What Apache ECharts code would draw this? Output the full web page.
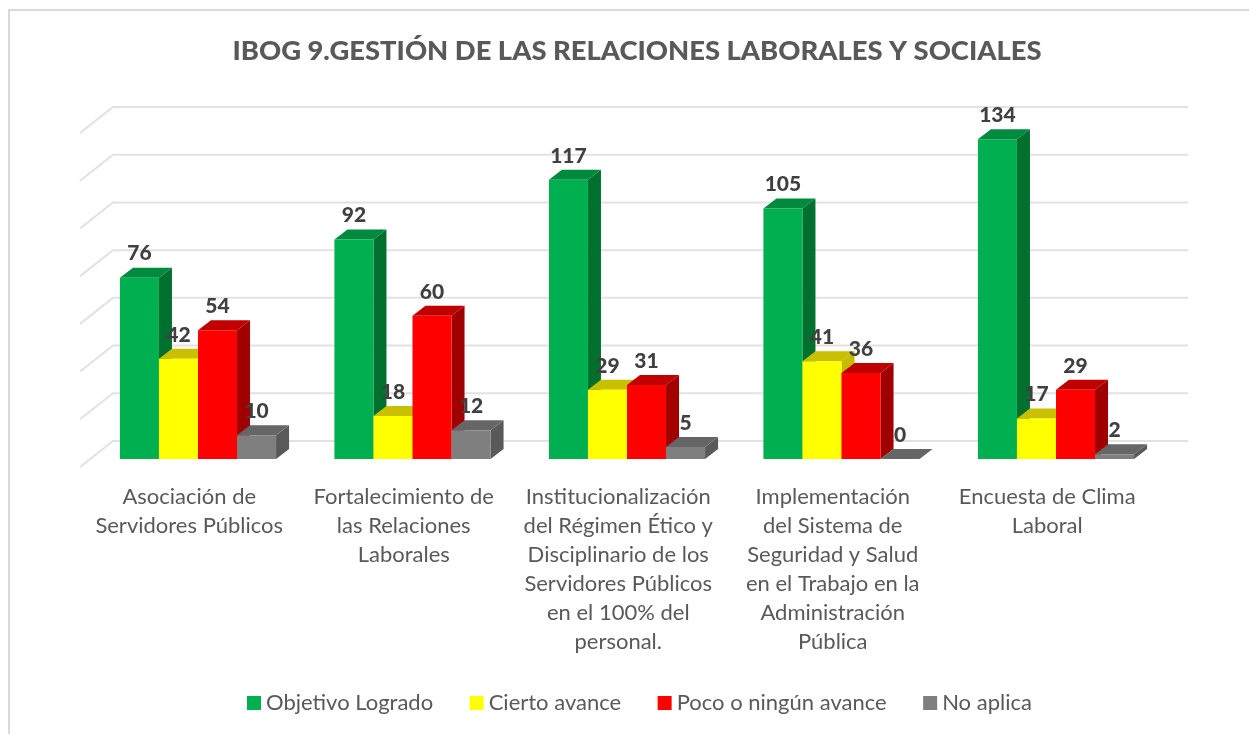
<!DOCTYPE html>
<html>
<head>
<meta charset="utf-8">
<title>IBOG 9</title>
<style>
html,body{margin:0;padding:0;background:#fff;}
#chart{width:1249px;height:734px;}
</style>
<script src="https://cdn.jsdelivr.net/npm/echarts@6/dist/echarts.min.js"></script>
</head>
<body>
<div id="chart"></div>
<script>
'use strict';
var titleText = 'IBOG 9.GESTIÓN DE LAS RELACIONES LABORALES Y SOCIALES';
var categories = [
    'Asociación de\nServidores Públicos',
    'Fortalecimiento de\nlas Relaciones\nLaborales',
    'Institucionalización\ndel Régimen Ético y\nDisciplinario de los\nServidores Públicos\nen el 100% del\npersonal.',
    'Implementación\ndel Sistema de\nSeguridad y Salud\nen el Trabajo en la\nAdministración\nPública',
    'Encuesta de Clima\nLaboral'
];
var logrado = [76, 92, 117, 105, 134];
var avance = [42, 18, 29, 41, 17];
var poco = [54, 60, 31, 36, 29];
var noAplica = [10, 12, 5, 0, 2];
var ticks = [0, 20, 40, 60, 80, 100, 120, 140];

var FONT = 'Lato, sans-serif';

// each bar is a box: front, side and top faces
function barRenderer(seriesIndex, front, side, top){
    return function(params, api){
        var band = api.size([1, 0])[0];
        var w = band * 0.182;
        var dx = 13, dy = 10;
        var p = api.coord([api.value(0), api.value(1)]);
        var base = api.coord([api.value(0), 0]);
        var x = base[0] + 8.75 - 2 * w + seriesIndex * w;
        var y0 = base[1] - 8;
        var y1 = p[1] - 8;
        return {
            type: 'group',
            children: [
                {type: 'polygon', shape: {points: [[x + w, y0], [x + w + dx, y0 - dy], [x + w + dx, y1 - dy], [x + w, y1]]}, style: {fill: side}},
                {type: 'polygon', shape: {points: [[x, y1], [x + dx, y1 - dy], [x + w + dx, y1 - dy], [x + w, y1]]}, style: {fill: top}},
                {type: 'rect', shape: {x: x, y: y1, width: w, height: y0 - y1}, style: {fill: front}},
                {type: 'text', z2: 100, style: {
                    text: String(api.value(1)), x: x + w / 2, y: y1 - 24,
                    align: 'center', verticalAlign: 'middle',
                    font: '900 21px ' + FONT, fill: '#404040'
                }}
            ]
        };
    };
}

// back wall lines with the short diagonal on the left
function gridRenderer(params, api){
    var p = api.coord([0, api.value(1)]);
    var x0 = params.coordSys.x - 2;
    var xBack = x0 + 33;
    var xEnd = params.coordSys.x + params.coordSys.width + 33.5;
    return {
        type: 'polyline',
        shape: {points: [[x0, p[1]], [xBack, p[1] - 26], [xEnd, p[1] - 26]]},
        style: {fill: null, stroke: '#e2e2e2', lineWidth: 2}
    };
}

function barSeries(name, idx, values, front, side, top){
    return {
        name: name,
        type: 'custom',
        z: 3,
        coordinateSystem: 'cartesian2d',
        renderItem: barRenderer(idx, front, side, top),
        itemStyle: {color: front},
        encode: {x: 0, y: 1},
        data: values.map(function(v, i){ return [i, v]; })
    };
}

var chart = echarts.init(document.getElementById('chart'));
chart.setOption({
    animation: false,
    backgroundColor: '#fff',
    // frame of the original chart area, cut off at the right and bottom
    graphic: [
        {type: 'line', shape: {x1: 9, y1: 10, x2: 9, y2: 734}, style: {stroke: '#d9d9d9', lineWidth: 2}},
        {type: 'line', shape: {x1: 8, y1: 10, x2: 1249, y2: 10}, style: {stroke: '#d9d9d9', lineWidth: 2}}
    ],
    title: {
        text: titleText,
        left: 632,
        top: 33,
        textAlign: 'center',
        textStyle: {fontFamily: FONT, fontWeight: 900, fontSize: 27.4, color: '#595959'}
    },
    legend: {
        data: ['Objetivo Logrado', 'Cierto avance', 'Poco o ningún avance', 'No aplica'],
        left: 242,
        top: 687,
        icon: 'rect',
        itemWidth: 14,
        itemHeight: 14,
        itemGap: 36.5,
        textStyle: {fontFamily: FONT, fontSize: 22, color: '#595959'}
    },
    grid: {left: 82, top: 133, width: 1072.5, height: 334},
    xAxis: {
        type: 'category',
        data: categories,
        axisLine: {show: false},
        axisTick: {show: false},
        axisLabel: {
            interval: 0,
            margin: 15,
            fontFamily: FONT,
            fontSize: 22,
            lineHeight: 29,
            color: '#595959'
        }
    },
    yAxis: {
        type: 'value',
        min: 0,
        max: 140,
        interval: 20,
        show: false,
        splitLine: {show: false}
    },
    series: [
        {
            type: 'custom',
            z: 1,
            silent: true,
            renderItem: gridRenderer,
            encode: {x: 0, y: 1},
            data: ticks.map(function(t){ return [0, t]; })
        },
        barSeries('Objetivo Logrado', 0, logrado, '#00B050', '#00702F', '#008A3E'),
        barSeries('Cierto avance', 1, avance, '#FFFF00', '#C4BC00', '#C8C000'),
        barSeries('Poco o ningún avance', 2, poco, '#FF0000', '#A00000', '#C00000'),
        barSeries('No aplica', 3, noAplica, '#7F7F7F', '#595959', '#666666')
    ]
});
</script>
</body>
</html>
